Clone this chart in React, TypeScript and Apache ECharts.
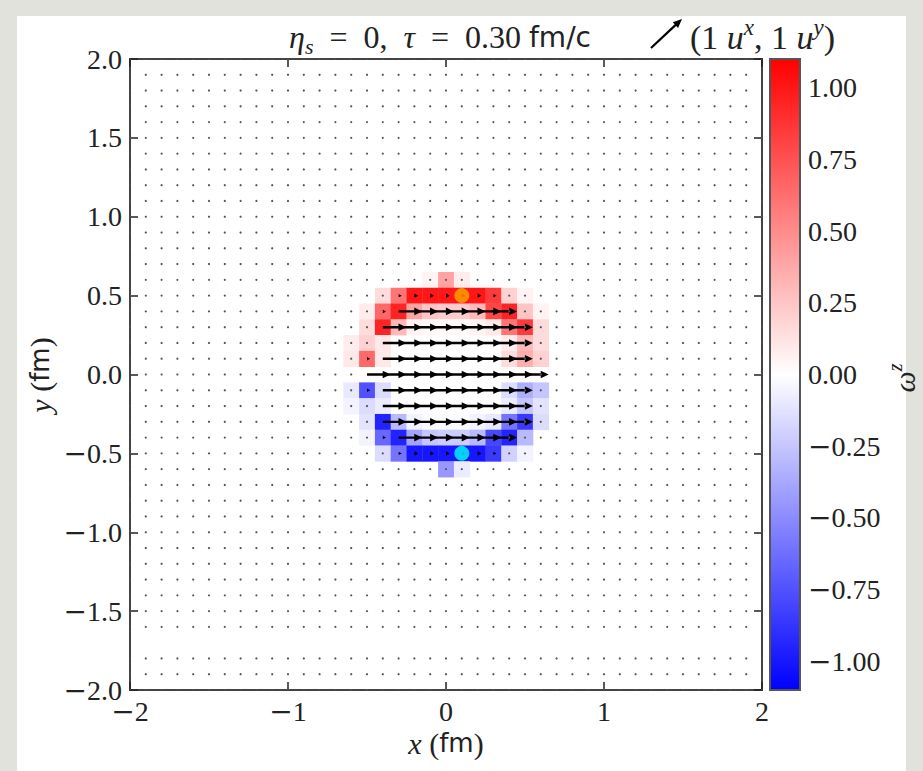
import React, { useEffect, useRef } from 'react';
import * as echarts from 'echarts';

// ---------- data ----------
const xTicks = [-2, -1, 0, 1, 2];
const yTicks = [-2, -1.5, -1, -0.5, 0, 0.5, 1, 1.5, 2];
const cbTicks = [-1, -0.75, -0.5, -0.25, 0, 0.25, 0.5, 0.75, 1];
const cbMin = -1.1;
const cbMax = 1.1;

// lattice nodes of the simulation grid (fm)
const gridNodes = [
  -2.0, -1.9, -1.8, -1.7, -1.6, -1.5, -1.4, -1.3, -1.2, -1.1, -1.0, -0.9, -0.8, -0.7, -0.6, -0.5, -0.4,
  -0.3, -0.2, -0.1, 0.0, 0.1, 0.2, 0.3, 0.4, 0.5, 0.6, 0.7, 0.8, 0.9, 1.0, 1.1, 1.2, 1.3, 1.4, 1.5, 1.6,
  1.7, 1.8, 1.9, 2.0,
];
const cellSize = 0.1;

// window where the fields are non-zero
const windowX = [-0.6, -0.5, -0.4, -0.3, -0.2, -0.1, 0.0, 0.1, 0.2, 0.3, 0.4, 0.5, 0.6];
const windowY = [0.6, 0.5, 0.4, 0.3, 0.2, 0.1, 0.0, -0.1, -0.2, -0.3, -0.4, -0.5, -0.6];

// vorticity omega^z (rows follow windowY, columns windowX)
const omegaRows = [
  [0, 0, 0, 0, 0, 0.05, 0.4, 0.08, 0, 0, 0, 0, 0],
  [0, 0, 0.15, 0.6, 1.0, 1.0, 1.0, 1.0, 1.0, 0.85, 0.2, 0.05, 0],
  [0, 0.08, 0.65, 0.95, 0.4, 0.25, 0.22, 0.22, 0.3, 0.8, 0.95, 0.25, 0.05],
  [0, 0.15, 0.95, 0.3, 0.05, 0.02, 0.02, 0.02, 0.05, 0.1, 0.6, 0.85, 0.15],
  [0.08, 0.2, 0.1, 0, 0, 0, 0, 0, 0, 0, 0.08, 0.3, 0.15],
  [0.1, 0.65, 0.1, 0, 0, 0, 0, 0, 0, 0, 0.15, 0.35, 0.2],
  [0, 0, 0, 0, 0, 0, 0, 0, 0, 0, 0, 0, 0],
  [-0.1, -0.75, -0.15, 0, 0, 0, 0, 0, 0, 0, -0.15, -0.35, -0.25],
  [-0.05, -0.15, -0.08, 0, 0, 0, 0, 0, 0, 0, -0.08, -0.25, -0.12],
  [0, -0.12, -0.95, -0.3, -0.05, -0.02, -0.02, -0.02, -0.05, -0.1, -0.6, -0.85, -0.15],
  [0, -0.05, -0.65, -0.95, -0.4, -0.25, -0.22, -0.22, -0.3, -0.8, -0.95, -0.3, 0],
  [0, 0, -0.15, -0.6, -1.0, -1.0, -1.0, -1.0, -1.0, -0.85, -0.2, -0.05, 0],
  [0, 0, 0, 0, 0, 0, -0.45, -0.08, 0, 0, 0, 0, 0],
];

// velocity u^x (u^y is zero everywhere)
const uxRows = [
  [0, 0, 0, 0, 0, 0, 0, 0, 0, 0, 0, 0, 0],
  [0, 0, 0, 0.1, 0.12, 0.12, 0.12, 0.12, 0.12, 0.1, 0, 0, 0],
  [0, 0, 0.1, 0.75, 0.75, 0.75, 0.75, 0.75, 0.75, 0.75, 0, 0, 0],
  [0, 0, 0.75, 0.75, 0.75, 0.75, 0.75, 0.75, 0.75, 0.75, 0.75, 0, 0],
  [0, 0, 0.75, 0.75, 0.75, 0.75, 0.75, 0.75, 0.75, 0.75, 0.75, 0, 0],
  [0, 0.1, 0.75, 0.75, 0.75, 0.75, 0.75, 0.75, 0.75, 0.75, 0.75, 0, 0],
  [0, 0.75, 0.75, 0.75, 0.75, 0.75, 0.75, 0.75, 0.75, 0.75, 0.75, 0.75, 0],
  [0, 0.1, 0.75, 0.75, 0.75, 0.75, 0.75, 0.75, 0.75, 0.75, 0.75, 0, 0],
  [0, 0, 0.75, 0.75, 0.75, 0.75, 0.75, 0.75, 0.75, 0.75, 0.75, 0, 0],
  [0, 0, 0.75, 0.75, 0.75, 0.75, 0.75, 0.75, 0.75, 0.75, 0.75, 0, 0],
  [0, 0, 0.1, 0.75, 0.75, 0.75, 0.75, 0.75, 0.75, 0.75, 0, 0, 0],
  [0, 0, 0, 0.1, 0.12, 0.12, 0.12, 0.12, 0.12, 0.1, 0, 0, 0],
  [0, 0, 0, 0, 0, 0, 0, 0, 0, 0, 0, 0, 0],
];
const quiverScale = 0.2; // fm per unit of u

const orangePoint = [[0.1, 0.5]];
const cyanPoint = [[0.1, -0.5]];

// ---------- helpers ----------
const SERIF = '"Liberation Serif", "DejaVu Serif", serif';
const SANS = '"DejaVu Sans", sans-serif';
const TXT = '#222';

const near = (a: number, b: number) => Math.abs(a - b) < 1e-6;
const withMinus = (s: string) => (s.startsWith('-') ? '{mn|\u2212}' + s.slice(1) : s);

function bwr(v: number) {
  const t = Math.max(-1, Math.min(1, v / cbMax));
  let r: number, g: number, b: number;
  if (t >= 0) {
    r = 255;
    g = b = Math.round(255 * (1 - t));
  } else {
    b = 255;
    r = g = Math.round(255 * (1 + t));
  }
  return `rgb(${r},${g},${b})`;
}

function arrowPoints(p0: number[], p1: number[], sw = 1.2, hw = 3.8, hl = 8) {
  const dx = p1[0] - p0[0];
  const dy = p1[1] - p0[1];
  const L = Math.hypot(dx, dy);
  const ux = dx / L, uy = dy / L;
  const nx = -uy, ny = ux;
  if (L <= hl) {
    const w = Math.min(hw, L * 0.55);
    return [
      [p0[0] + nx * w, p0[1] + ny * w],
      [p1[0], p1[1]],
      [p0[0] - nx * w, p0[1] - ny * w],
    ];
  }
  const bx = p1[0] - ux * hl, by = p1[1] - uy * hl;
  return [
    [p0[0] + nx * sw, p0[1] + ny * sw],
    [bx + nx * sw, by + ny * sw],
    [bx + nx * hw, by + ny * hw],
    [p1[0], p1[1]],
    [bx - nx * hw, by - ny * hw],
    [bx - nx * sw, by - ny * sw],
    [p0[0] - nx * sw, p0[1] - ny * sw],
  ];
}

// build tables from the arrays
const heatData: number[][] = [];
windowY.forEach((y, iy) => {
  windowX.forEach((x, ix) => {
    const v = omegaRows[iy][ix];
    if (v !== 0) heatData.push([x, y, v]);
  });
});

const quiverData: number[][] = [];
gridNodes.forEach((gy) => {
  gridNodes.forEach((gx) => {
    const ix = windowX.findIndex((v) => near(v, gx));
    const iy = windowY.findIndex((v) => near(v, gy));
    const u = ix >= 0 && iy >= 0 ? uxRows[iy][ix] : 0;
    quiverData.push([gx, gy, u, 0]);
  });
});

const mkRich = (fs: number) => ({
  r: { fontFamily: SERIF, fontSize: fs, lineHeight: fs + 8, fill: TXT },
  m: { fontFamily: SERIF, fontStyle: 'italic', fontSize: fs, lineHeight: fs + 8, fill: TXT },
  sf: { fontFamily: SANS, fontSize: fs - 4, lineHeight: fs + 8, fill: TXT },
  sub: { fontFamily: SERIF, fontStyle: 'italic', fontSize: Math.round(fs * 0.68), lineHeight: Math.round(fs * 0.7), verticalAlign: 'bottom', fill: TXT },
  sup: { fontFamily: SERIF, fontStyle: 'italic', fontSize: Math.round(fs * 0.68), lineHeight: Math.round(fs * 0.75), verticalAlign: 'top', fill: TXT },
});
const richTitle = mkRich(32);
const richLegend = mkRich(34);
const richLabel = mkRich(30);
const labelRich = { mn: { fontFamily: '"DejaVu Serif", serif', fontSize: 28, color: TXT, lineHeight: 20 } };

export default function App() {
  const ref = useRef<HTMLDivElement>(null);

  useEffect(() => {
    if (!ref.current) return;
    const chart = echarts.init(ref.current, null, { renderer: 'svg' });

    const tickStyle = { color: '#222', width: 1.5 };
    const legendArrow = arrowPoints([651, 48], [682, 19], 1.1, 3.8, 9);
    const hiddenLine = { show: false, onZero: false };
    const lblBase = { fontSize: 28, color: TXT, fontFamily: SERIF, rich: labelRich, lineHeight: 20 };

    const option: any = {
      animation: false,
      textStyle: { fontFamily: SERIF },
      grid: [
        { left: 130, top: 59, width: 632, height: 631, show: true, borderColor: '#444', borderWidth: 2, backgroundColor: 'transparent' },
        { left: 770, top: 59, width: 30, height: 631, show: false },
      ],
      xAxis: [
        {
          type: 'value', gridIndex: 0, min: -2, max: 2, interval: 1, position: 'bottom',
          axisLine: hiddenLine, splitLine: { show: false },
          axisTick: { inside: true, length: 8, lineStyle: tickStyle },
          axisLabel: { ...lblBase, margin: 11, formatter: (v: number) => withMinus(String(v)) },
        },
        {
          type: 'value', gridIndex: 0, min: -2, max: 2, interval: 1, position: 'top',
          axisLine: hiddenLine, splitLine: { show: false },
          axisTick: { inside: true, length: 8, lineStyle: tickStyle },
          axisLabel: { show: false },
        },
        { type: 'value', gridIndex: 1, min: 0, max: 1, show: false, axisLine: hiddenLine },
      ],
      yAxis: [
        {
          type: 'value', gridIndex: 0, min: -2, max: 2, interval: 0.5, position: 'left',
          axisLine: hiddenLine, splitLine: { show: false },
          axisTick: { inside: true, length: 8, lineStyle: tickStyle },
          axisLabel: { ...lblBase, margin: 8, formatter: (v: number) => withMinus(v.toFixed(1)) },
        },
        {
          type: 'value', gridIndex: 0, min: -2, max: 2, interval: 0.5, position: 'right',
          axisLine: hiddenLine, splitLine: { show: false },
          axisTick: { inside: true, length: 8, lineStyle: tickStyle },
          axisLabel: { show: false },
        },
        {
          type: 'value', gridIndex: 1, min: cbMin, max: cbMax, position: 'right',
          axisLine: hiddenLine, splitLine: { show: false },
          axisTick: { inside: true, length: 8, lineStyle: tickStyle, customValues: cbTicks },
          axisLabel: { ...lblBase, margin: 8, customValues: cbTicks, formatter: (v: number) => withMinus(v.toFixed(2)) },
        },
      ],
      series: [
        {
          type: 'custom', name: 'omega', xAxisIndex: 0, yAxisIndex: 0, clip: true,
          encode: { x: 0, y: 1 },
          data: heatData,
          renderItem: (params: any, api: any) => {
            const x = api.value(0), y = api.value(1), v = api.value(2);
            const p = api.coord([x - cellSize / 2, y + cellSize / 2]);
            const s = api.size([cellSize, cellSize]);
            return { type: 'rect', shape: { x: p[0], y: p[1], width: s[0] + 0.4, height: s[1] + 0.4 }, style: { fill: bwr(v) } };
          },
          z: 1,
        },
        {
          type: 'custom', name: 'u', xAxisIndex: 0, yAxisIndex: 0, clip: true,
          encode: { x: 0, y: 1 },
          data: quiverData,
          renderItem: (params: any, api: any) => {
            const x = api.value(0), y = api.value(1), u = api.value(2), w = api.value(3);
            const p0 = api.coord([x, y]);
            const p1 = api.coord([x + u * quiverScale, y + w * quiverScale]);
            const L = Math.hypot(p1[0] - p0[0], p1[1] - p0[1]);
            if (L < 1) {
              return { type: 'circle', shape: { cx: p0[0], cy: p0[1], r: 1.1 }, style: { fill: '#555' } };
            }
            return { type: 'polygon', shape: { points: arrowPoints(p0, p1) }, style: { fill: '#000' } };
          },
          z: 3,
        },
        {
          type: 'scatter', xAxisIndex: 0, yAxisIndex: 0, data: orangePoint, symbolSize: 15,
          itemStyle: { color: '#ffa500' }, z: 5,
        },
        {
          type: 'scatter', xAxisIndex: 0, yAxisIndex: 0, data: cyanPoint, symbolSize: 15,
          itemStyle: { color: '#00ffff' }, z: 5,
        },
        {
          type: 'custom', name: 'colorbar', xAxisIndex: 2, yAxisIndex: 2,
          data: [[0, cbMax, 1, cbMin]],
          renderItem: (params: any, api: any) => {
            const a = api.coord([api.value(0), api.value(1)]);
            const b = api.coord([api.value(2), api.value(3)]);
            return {
              type: 'rect',
              shape: { x: a[0], y: a[1], width: b[0] - a[0], height: b[1] - a[1] },
              style: {
                fill: new echarts.graphic.LinearGradient(0, 0, 0, 1, [
                  { offset: 0, color: bwr(cbMax) },
                  { offset: 0.5, color: bwr(0) },
                  { offset: 1, color: bwr(cbMin) },
                ]),
                stroke: '#555',
                lineWidth: 2,
              },
            };
          },
        },
      ],
      graphic: [
        {
          type: 'text', x: 440, y: 37,
          style: {
            text: '{m|η}{sub|s}{r|\u2002=\u20020,\u2002}{m|τ}{r|\u2002=\u20020.30 }{sf|fm/c}',
            rich: richTitle, align: 'center', verticalAlign: 'middle', fill: TXT,
          },
        },
        {
          type: 'polygon', shape: { points: legendArrow }, style: { fill: '#000' },
        },
        {
          type: 'text', x: 690, y: 37,
          style: {
            text: '{r|(1 }{m|u}{sup|x}{r|, 1 }{m|u}{sup|y}{r|)}',
            rich: richLegend, align: 'left', verticalAlign: 'middle', fill: TXT,
          },
        },
        {
          type: 'text', x: 446, y: 743,
          style: {
            text: '{m|x}{r| (}{sf|fm}{r|)}',
            rich: richLabel, align: 'center', verticalAlign: 'middle', fill: TXT,
          },
        },
        {
          type: 'text', x: 40, y: 375, rotation: Math.PI / 2,
          style: {
            text: '{m|y}{r| (}{sf|fm}{r|)}',
            rich: richLabel, align: 'center', verticalAlign: 'middle', fill: TXT,
          },
        },
        {
          type: 'text', x: 904, y: 378, rotation: Math.PI / 2,
          style: {
            text: '{m|ω}{sup|z}',
            rich: richLabel, align: 'center', verticalAlign: 'middle', fill: TXT,
          },
        },
      ],
    };

    chart.setOption(option);
    return () => chart.dispose();
  }, []);

  return (
    <div style={{ position: 'fixed', left: 0, top: 0, width: 923, height: 771, background: '#e2e2dc', overflow: 'hidden' }}>
      <div style={{ position: 'absolute', left: 17, top: 16, width: 889, height: 755, background: '#ffffff' }} />
      <div ref={ref} style={{ position: 'absolute', left: 0, top: 0, width: 923, height: 771 }} />
    </div>
  );
}
